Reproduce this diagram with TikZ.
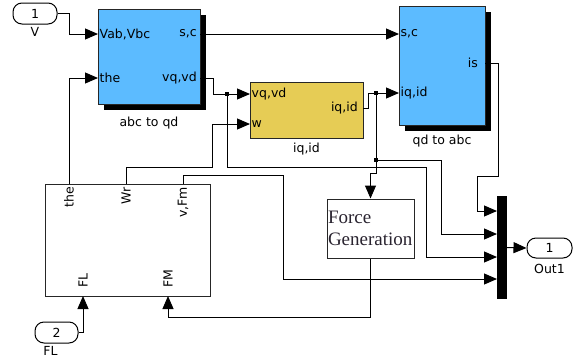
\documentclass[tikz,border=0pt]{standalone}
\usepackage{fontspec}
\setmainfont{DejaVu Sans}
\newfontfamily\fgfont{Liberation Serif}
\usetikzlibrary{arrows.meta,positioning,shadows}
\definecolor{simblue}{HTML}{5CBBFF}
\definecolor{simyel}{HTML}{E6CC55}
\definecolor{fgtext}{HTML}{2A2430}
\tikzset{
  wire/.style={line width=1pt,black},
  ar/.style={wire,-{Triangle[length=13pt,width=11pt]}},
  blk/.style={draw=black!85,line width=1pt,inner sep=0pt},
  shad/.style={drop shadow={shadow xshift=6pt,shadow yshift=-6pt,fill=black,opacity=1}},
  port/.style={font=\fontsize{12.5}{14}\selectfont,inner sep=1.5pt},
  lbl/.style={font=\fontsize{12.5}{14}\selectfont,inner sep=1pt},
  io/.style={draw,line width=1pt,rounded corners=9pt,minimum width=44pt,minimum height=21pt,inner sep=0pt,font=\fontsize{12.5}{14}\selectfont},
  bdot/.style={fill,inner sep=0pt,minimum size=3.5pt}
}

\begin{document}
\begin{tikzpicture}[x=1pt,y=-1pt]
\useasboundingbox (0,0) rectangle (578,362);
\node[io] (in1) at (35,13.5) {1};
\node[lbl,below=2pt of in1] (in1-cap) {V};
\node[io,minimum width=43pt] (in2) at (56.5,332.5) {2};
\node[lbl,below=2pt of in2,xshift=-6pt] (in2-cap) {FL};
\node[io,minimum width=45pt,minimum height=20pt] (out1) at (549.5,248) {1};
\node[lbl,below=5pt of out1] (out1-cap) {Out1};

\node[blk,shad,fill=simblue,minimum width=102pt,minimum height=95pt] (abc) at (149,56.5) {};
\node[lbl,below=11pt of abc] (abc-cap) {abc to qd};
\node[blk,shad,fill=simblue,minimum width=86pt,minimum height=119pt] (qd) at (442,65.5) {};
\node[lbl,below=8pt of qd] (qd-cap) {qd to abc};
\node[blk,fill=simyel,minimum width=113pt,minimum height=56pt] (iq) at (306.5,110) {};
\node[lbl,below=3pt of iq] (iq-cap) {iq,id};
\node[blk,fill=white,minimum width=165pt,minimum height=112pt] (mot) at (127.5,240) {};
\node[blk,fill=white,minimum width=87pt,minimum height=59pt,text width=85pt,align=left,inner sep=1pt,
  font=\fgfont\fontsize{19}{22}\selectfont,text=fgtext] (force) at (370.5,228.5) {Force\\Generation};
\node[fill=black,minimum width=10pt,minimum height=103pt,inner sep=0pt] (mux) at (502,247.5) {};

\coordinate (abc-vin) at (98,34);
\coordinate (abc-thin) at (98,78);
\coordinate (abc-sc) at (200,34);
\coordinate (abc-vqd) at (200,78);
\coordinate (iq-vqd) at (250,94);
\coordinate (iq-w) at (250,124);
\coordinate (iq-out) at (363,108);
\coordinate (qd-sc) at (399,34);
\coordinate (qd-iqd) at (399,93);
\coordinate (qd-is) at (485,63);
\coordinate (mot-the) at (69,184);
\coordinate (mot-wr) at (126,184);
\coordinate (mot-vfm) at (183,184);
\coordinate (mot-fl) at (83,296);
\coordinate (mot-fm) at (168,296);
\foreach \i/\y in {1/211,2/234,3/257,4/279}
  \coordinate (mux-\i) at (497,\y);
\coordinate (br1) at (227,94);
\coordinate (br2) at (376,93);
\coordinate (br3) at (376,160);

\node[port,anchor=west] (t-vab) at (abc-vin) {Vab,Vbc};
\node[port,anchor=west] (t-the) at (abc-thin) {the};
\node[port,anchor=east,inner xsep=3pt] (t-sc) at (abc-sc) {s,c};
\node[port,anchor=east,inner xsep=3pt] (t-vqd) at (abc-vqd) {vq,vd};
\node[port,anchor=west] (t-ivqd) at (iq-vqd) {vq,vd};
\node[port,anchor=west] (t-w) at (iq-w) {w};
\node[port,anchor=east,inner xsep=5pt] (t-iqo) at (iq-out) {iq,id};
\node[port,anchor=west] (t-qsc) at (qd-sc) {s,c};
\node[port,anchor=west] (t-qiqd) at (qd-iqd) {iq,id};
\node[port,anchor=east,inner xsep=7pt] (t-is) at (qd-is) {is};
\node[port,rotate=90,anchor=east,inner xsep=3pt] (t-mthe) at (mot-the) {the};
\node[port,rotate=90,anchor=east,inner xsep=3pt] (t-mwr) at (mot-wr) {Wr};
\node[port,rotate=90,anchor=east,inner xsep=3pt] (t-mvfm) at (mot-vfm) {v,Fm};
\node[port,rotate=90,anchor=west,inner xsep=8pt] (t-mfl) at (mot-fl) {FL};
\node[port,rotate=90,anchor=west,inner xsep=8pt] (t-mfm) at (mot-fm) {FM};

\draw[ar] (in1.east) -- ++(12,0) |- (abc-vin);
\draw[ar] (mot-the) |- (abc-thin);
\draw[ar] (abc-sc) -- (qd-sc);
\draw[ar] (abc-vqd) -- ++(13,0) |- (iq-vqd);
\draw[ar] (br1) -- ++(0,73) -- ++(199,0) |- (mux-3);
\draw[ar] (mot-wr) -- ++(0,-17) -- ++(86,0) |- (iq-w);
\draw[ar] (iq-out) -- ++(5,0) |- (qd-iqd);
\draw[ar] (br2) -- ++(0,80) -| (force.north);
\draw[ar] (br3) -- ++(65,0) |- (mux-2);
\draw[ar] (mot-vfm) -- ++(0,-9) -- ++(100,0) |- (mux-4);
\draw[ar] (qd-is) -- ++(13,0) -- ++(0,113) -- ++(-21,0) |- (mux-1);
\draw[ar] (force.south) -- ++(0,59) -| (mot-fm);
\draw[ar] (in2.east) -| (mot-fl);
\draw[ar] (mux.east) -- (out1.west);
\foreach \b in {br1,br2,br3}
  \node[bdot] (d-\b) at (\b) {};
\end{tikzpicture}
\end{document}
